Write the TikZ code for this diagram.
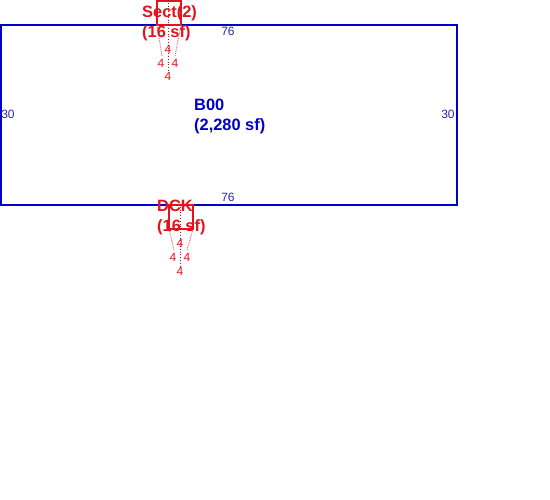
\documentclass[tikz,border=0pt]{standalone}
\usepackage{fontspec}
\setmainfont{Liberation Sans}
\definecolor{bldgblue}{RGB}{0,0,200}
\definecolor{dimblue}{RGB}{40,40,170}
\definecolor{addred}{RGB}{225,20,30}
\tikzset{
	bldg/.style={draw=bldgblue,line width=1.6pt},
	addbox/.style={draw=addred,line width=1.6pt},
	hint/.style={draw=addred!70,densely dotted,line width=0.9pt},
	axis/.style={draw=addred!80!black,dotted,line width=0.8pt},
	bigname/.style={font=\fontsize{16.4pt}{20pt}\selectfont\bfseries,align=left,anchor=north west,inner sep=0pt},
	dimblue/.style={text=dimblue,font=\fontsize{12pt}{14pt}\selectfont,inner sep=0pt},
	dimred/.style={text=addred,font=\fontsize{12pt}{14pt}\selectfont,inner sep=0pt}
}
\begin{document}
\begin{tikzpicture}[x=1pt,y=-1pt]
		\useasboundingbox (0,0) rectangle (550,500);
		\fill[white] (0,0) rectangle (550,500);
		% main building
		\coordinate (b1) at (1,25);
		\coordinate (b2) at (457,205);
		\draw[bldg] (b1) rectangle (b2);
		\node[dimblue](top) at (228,31) {76};
		\node[dimblue](bot) at (228,197) {76};
		\node[dimblue](lft) at (8,114) {30};
		\node[dimblue](rgt) at (448,114) {30};
		\node[bigname,text=bldgblue](b00) at (194,98.5) {B00\\(2,280 sf)};
		% section on top
		\coordinate (s1) at (157,1);
		\coordinate (s2) at (181,25);
		\draw[addbox] (s1) rectangle (s2);
		\draw[axis] (168,0) -- (168,72);
		\draw[hint] (157,25) -- (162,56);
		\draw[hint] (181,25) -- (175,56);
		\node[dimred](s_t) at (168,49) {4};
		\node[dimred](s_l) at (161,63) {4};
		\node[dimred](s_r) at (175,63) {4};
		\node[dimred](s_b) at (168,76) {4};
		\node[bigname,text=addred](sect) at (142,5) {Sect(2)\\(16 sf)};
		% deck below
		\coordinate (d1) at (169,205);
		\coordinate (d2) at (193,229);
		\draw[addbox] (d1) rectangle (d2);
		\draw[axis] (180,204) -- (180,266);
		\draw[hint] (169,229) -- (174,250);
		\draw[hint] (193,229) -- (187,250);
		\node[dimred](d_t) at (180,243) {4};
		\node[dimred](d_l) at (173,257) {4};
		\node[dimred](d_r) at (187,257) {4};
		\node[dimred](d_b) at (180,271) {4};
		\node[bigname,text=addred](dck) at (157,200) {DCK\\(16 sf)};
	\end{tikzpicture}
\end{document}
